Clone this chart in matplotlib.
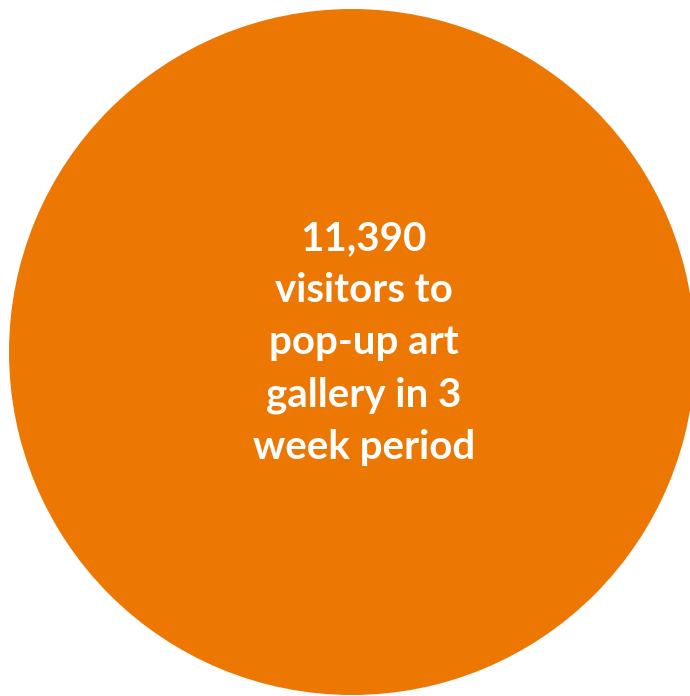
import matplotlib.pyplot as plt

# single-value "pie" used as a big number bubble
visitors = [11390]
caption = ['visitors to', 'pop-up art', 'gallery in 3', 'week period']
colors = ['#EC7702']

fig = plt.figure(figsize=(6.9, 6.96), dpi=100)
# axes box = bounding square of the circle (in pixels: left 9, top 9, size 686)
ax = fig.add_axes([9 / 690, 1 / 696, 686 / 690, 686 / 696])
wedges, _ = ax.pie(visitors, colors=colors, startangle=90, radius=1,
                   wedgeprops={'linewidth': 0})
for w in wedges:
    w.set_clip_on(False)
ax.set_xlim(-1, 1)
ax.set_ylim(-1, 1)
ax.set_aspect('auto')
ax.axis('off')

label = f'{visitors[0]:,}\n' + '\n'.join(caption)
fig.text(364 / 690, 1 - 343 / 696, label, ha='center', va='center',
         color='white', fontsize=29, fontweight='bold', family='Lato',
         linespacing=1.5, multialignment='center')

fig.savefig('out.png', dpi=100)
